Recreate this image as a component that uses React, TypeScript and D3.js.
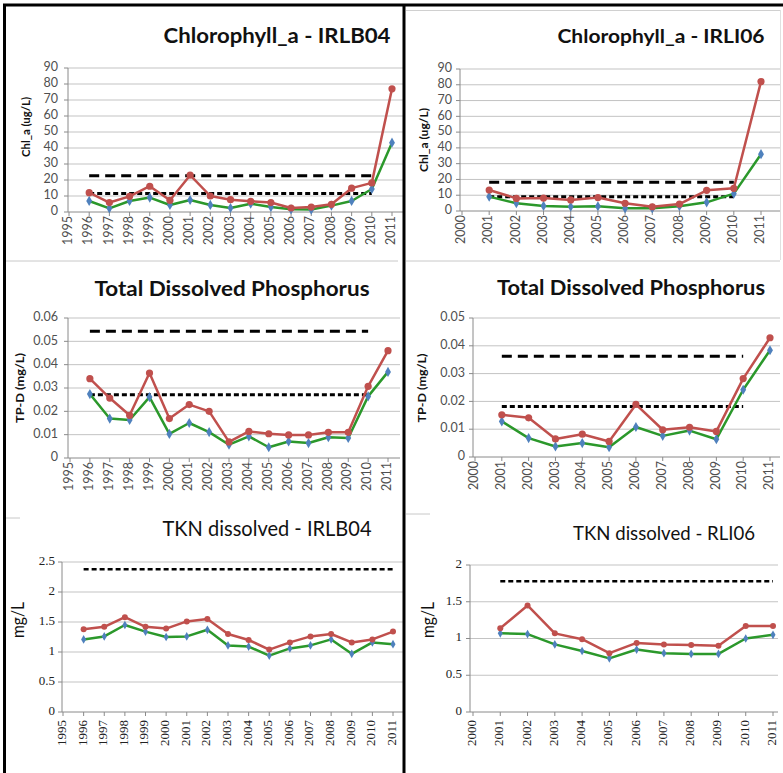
import React from 'react';
import * as d3 from 'd3';

// years
const yearsB04 = [1996, 1997, 1998, 1999, 2000, 2001, 2002, 2003, 2004, 2005, 2006, 2007, 2008, 2009, 2010, 2011];
const yearsI06 = [2001, 2002, 2003, 2004, 2005, 2006, 2007, 2008, 2009, 2010, 2011];

// Chlorophyll a (ug/L)
const chlB04High = [12.1, 5.9, 9.8, 16.1, 7.3, 23, 10, 7.7, 6.7, 5.9, 2.5, 3.1, 4.8, 14.9, 18.2, 77];
const chlB04Low = [6.9, 2.3, 6.9, 9, 4.4, 7.5, 4.4, 2.5, 5.2, 3.1, 1.7, 1.5, 4, 6.9, 14.4, 43.3];
const chlI06High = [13.3, 8, 8.2, 7, 8.5, 4.9, 2.7, 4.4, 13.1, 14.4, 82];
const chlI06Low = [9.1, 4.9, 3.2, 2.7, 3, 1.7, 1.7, 3, 5.5, 11, 36];

// Total dissolved phosphorus (mg/L)
const tpdB04High = [0.034, 0.0257, 0.0183, 0.0364, 0.0169, 0.0229, 0.02, 0.0069, 0.0114, 0.0104, 0.0099, 0.0099, 0.011, 0.011, 0.0307, 0.046];
const tpdB04Low = [0.0274, 0.0169, 0.0163, 0.0261, 0.0103, 0.015, 0.0111, 0.0057, 0.0093, 0.0046, 0.0071, 0.0064, 0.0089, 0.0086, 0.0264, 0.0369];
const tpdI06High = [0.0152, 0.0141, 0.0065, 0.0082, 0.0056, 0.0189, 0.0098, 0.0107, 0.0092, 0.0282, 0.0429];
const tpdI06Low = [0.0128, 0.0068, 0.0038, 0.005, 0.0035, 0.0108, 0.0076, 0.0095, 0.0064, 0.0242, 0.0384];

// TKN dissolved (mg/L)
const tknB04High = [1.38, 1.42, 1.58, 1.42, 1.39, 1.51, 1.55, 1.3, 1.2, 1.04, 1.16, 1.26, 1.3, 1.16, 1.21, 1.34];
const tknB04Low = [1.21, 1.26, 1.45, 1.34, 1.25, 1.26, 1.37, 1.11, 1.09, 0.94, 1.06, 1.11, 1.21, 0.97, 1.16, 1.13];
const tknI06High = [1.14, 1.45, 1.07, 0.99, 0.8, 0.94, 0.92, 0.91, 0.9, 1.17, 1.17];
const tknI06Low = [1.07, 1.06, 0.92, 0.83, 0.73, 0.85, 0.8, 0.79, 0.79, 1.0, 1.05];

// reference levels [long dash, short dash] and the years they span
const chlB04Refs = [22.6, 11.5];
const chlI06Refs = [18.2, 9.1];
const tpdB04Refs = [0.0543, 0.0271];
const tpdI06Refs = [0.0362, 0.0182];
const tknB04Refs = [2.38];
const tknI06Refs = [1.78];
const refSpanChlB04 = [1996, 2010];
const refSpanChlI06 = [2001, 2010];
const refSpanTknB04 = [1996, 2011];
const refSpanTknI06 = [2001, 2011];

// axes
const axisB04 = [1995, 2011];
const axisI06 = [2000, 2011];
const chlTicks = [0, 10, 20, 30, 40, 50, 60, 70, 80, 90];
const tpdB04Ticks = [0, 0.01, 0.02, 0.03, 0.04, 0.05, 0.06];
const tpdI06Ticks = [0, 0.01, 0.02, 0.03, 0.04, 0.05];
const tknB04Ticks = [0, 0.5, 1, 1.5, 2, 2.5];
const tknI06Ticks = [0, 0.5, 1, 1.5, 2];

const RED = '#c0504d';
const GREEN = '#2b982b';
const BLUE = '#4f81bd';
const SANS = 'Lato, "Open Sans", sans-serif';
const SERIF = '"Liberation Serif", "DejaVu Serif", serif';

type Cfg = {
  title: string; titleX: number; titleY: number; titleW: number; titleSize: number; titleWeight: string;
  yLabel: string; yLabelX: number; yLabelY: number; yLabelW: number; yLabelSize: number; yLabelWeight: string;
  years: number[]; high: number[]; low: number[];
  refs: number[]; refSpan: number[];
  xDomain: number[]; x0: number; x1: number; axisX: number; gridEnd: number;
  yTicks: number[]; yTop: number; yBottom: number; tickRight: number;
  tickFont: string; tickSize: number; xLabelGap: number; lineW: number; small: boolean;
};

const base = { titleWeight: 'bold', yLabelWeight: 'bold', yLabelSize: 11.5, tickFont: SANS, tickSize: 12.5, xLabelGap: 4, lineW: 2.5, small: false, titleSize: 21 };

const panels: Cfg[] = [
  { ...base, title: 'Chlorophyll_a - IRLB04', titleX: 277, titleY: 43, titleW: 227,
    yLabel: 'Chl_a (ug/L)', yLabelX: 27, yLabelY: 127, yLabelW: 60,
    years: yearsB04, high: chlB04High, low: chlB04Low, refs: chlB04Refs, refSpan: refSpanChlB04,
    xDomain: axisB04, x0: 69, x1: 392, axisX: 68, gridEnd: 403,
    yTicks: chlTicks, yTop: 68, yBottom: 212, tickRight: 58 },
  { ...base, title: 'Chlorophyll_a - IRLI06', titleX: 661, titleY: 43, titleW: 207, titleSize: 19.5,
    yLabel: 'Chl_a (ug/L)', yLabelX: 425, yLabelY: 140, yLabelW: 64,
    years: yearsI06, high: chlI06High, low: chlI06Low, refs: chlI06Refs, refSpan: refSpanChlI06,
    xDomain: axisI06, x0: 462, x1: 761, axisX: 460, gridEnd: 780,
    yTicks: chlTicks, yTop: 69, yBottom: 211, tickRight: 452 },
  { ...base, title: 'Total Dissolved Phosphorus', titleX: 232, titleY: 296, titleW: 275,
    yLabel: 'TP-D (mg/L)', yLabelX: 21, yLabelY: 388, yLabelW: 70,
    years: yearsB04, high: tpdB04High, low: tpdB04Low, refs: tpdB04Refs, refSpan: refSpanChlB04,
    xDomain: axisB04, x0: 70, x1: 388, axisX: 68, gridEnd: 400,
    yTicks: tpdB04Ticks, yTop: 318, yBottom: 458, tickRight: 58 },
  { ...base, title: 'Total Dissolved Phosphorus', titleX: 631, titleY: 295, titleW: 268,
    yLabel: 'TP-D (mg/L)', yLabelX: 423, yLabelY: 388, yLabelW: 69,
    years: yearsI06, high: tpdI06High, low: tpdI06Low, refs: tpdI06Refs, refSpan: refSpanChlI06,
    xDomain: axisI06, x0: 475, x1: 770, axisX: 473, gridEnd: 780,
    yTicks: tpdI06Ticks, yTop: 318, yBottom: 457, tickRight: 465 },
  { ...base, title: 'TKN dissolved - IRLB04', titleX: 267, titleY: 536, titleW: 209, titleWeight: 'normal', titleSize: 22,
    yLabel: 'mg/L', yLabelX: 19, yLabelY: 620, yLabelW: 36, yLabelSize: 18, yLabelWeight: 'normal',
    years: yearsB04, high: tknB04High, low: tknB04Low, refs: tknB04Refs, refSpan: refSpanTknB04,
    xDomain: axisB04, x0: 63, x1: 393, axisX: 62, gridEnd: 403,
    yTicks: tknB04Ticks, yTop: 562, yBottom: 712, tickRight: 55,
    tickFont: SERIF, tickSize: 13, xLabelGap: 8, small: true },
  { ...base, title: 'TKN dissolved - RLI06', titleX: 664, titleY: 540, titleW: 182, titleWeight: 'normal', titleSize: 20,
    yLabel: 'mg/L', yLabelX: 429, yLabelY: 620, yLabelW: 36, yLabelSize: 18, yLabelWeight: 'normal',
    years: yearsI06, high: tknI06High, low: tknI06Low, refs: tknI06Refs, refSpan: refSpanTknI06,
    xDomain: axisI06, x0: 473, x1: 773, axisX: 470, gridEnd: 778,
    yTicks: tknI06Ticks, yTop: 565, yBottom: 712, tickRight: 462,
    tickFont: SERIF, tickSize: 13, xLabelGap: 8, small: true },
];

const Panel = ({ p }: { p: Cfg }) => {
  const x = d3.scaleLinear().domain(p.xDomain).range([p.x0, p.x1]);
  const yMax = p.yTicks[p.yTicks.length - 1];
  const y = d3.scaleLinear().domain([0, yMax]).range([p.yBottom, p.yTop]);
  const xTicks = d3.range(p.xDomain[0], p.xDomain[1] + 1);
  const line = d3.line<number>().x((d, i) => x(p.years[i])).y((d) => y(d));
  const diamond = d3.symbol().type(d3.symbolDiamond).size(p.small ? 22 : 30)();
  const dashes = p.small ? ['5 3'] : ['10 6', '5 3'];
  const tickColor = p.small ? '#222' : '#505050';

  return (
    <g>
      <text x={p.titleX} y={p.titleY} textAnchor="middle" fontFamily={SANS} fontSize={p.titleSize}
        fontWeight={p.titleWeight} fill="#111" textLength={p.titleW} lengthAdjust="spacingAndGlyphs">
        {p.title}
      </text>
      <text transform={`translate(${p.yLabelX},${p.yLabelY}) rotate(-90)`} textAnchor="middle"
        dominantBaseline="middle" fontFamily={SANS} fontSize={p.yLabelSize} fontWeight={p.yLabelWeight}
        fill="#111" textLength={p.yLabelW} lengthAdjust="spacingAndGlyphs">
        {p.yLabel}
      </text>

      {p.yTicks.map((t) => (
        <g key={t}>
          {t > 0 && <line x1={p.axisX} x2={p.gridEnd} y1={y(t)} y2={y(t)} stroke="#c3c3c3" strokeWidth={1} />}
          <line x1={p.axisX - 4} x2={p.axisX} y1={y(t)} y2={y(t)} stroke="#8a8a8a" />
          <text x={p.tickRight} y={y(t)} textAnchor="end" dominantBaseline="middle"
            fontFamily={p.tickFont} fontSize={p.tickSize} fill={tickColor}>
            {String(t)}
          </text>
        </g>
      ))}
      <line x1={p.axisX} x2={p.axisX} y1={p.yTop} y2={p.yBottom} stroke="#8a8a8a" />
      <line x1={p.axisX} x2={p.gridEnd} y1={p.yBottom} y2={p.yBottom} stroke="#8a8a8a" />
      {xTicks.map((t) => (
        <g key={t}>
          <line x1={x(t)} x2={x(t)} y1={p.yBottom} y2={p.yBottom + 4} stroke="#8a8a8a" />
          <text transform={`translate(${x(t)},${p.yBottom + p.xLabelGap}) rotate(-90)`} textAnchor="end"
            dominantBaseline="middle" fontFamily={p.tickFont} fontSize={p.tickSize} fill={tickColor}>
            {t}
          </text>
        </g>
      ))}

      {p.refs.map((r, i) => (
        <line key={i} x1={x(p.refSpan[0])} x2={x(p.refSpan[1])} y1={y(r)} y2={y(r)}
          stroke="#000" strokeWidth={p.small ? 2.5 : 3} strokeDasharray={dashes[i]} />
      ))}

      <path d={line(p.low) || ''} fill="none" stroke={GREEN} strokeWidth={p.lineW} strokeLinejoin="round" />
      {p.low.map((v, i) => (
        <path key={i} d={diamond} transform={`translate(${x(p.years[i])},${y(v)})`} fill={BLUE} />
      ))}
      <path d={line(p.high) || ''} fill="none" stroke={RED} strokeWidth={p.lineW} strokeLinejoin="round" />
      {p.high.map((v, i) => (
        <circle key={i} cx={x(p.years[i])} cy={y(v)} r={p.small ? 3 : 3.6} fill={RED} />
      ))}
    </g>
  );
};

export default function App() {
  return (
    <svg width={783} height={773} style={{ position: 'absolute', left: 0, top: 0, background: '#fff' }}>
      <rect width={783} height={773} fill="#fff" />
      {/* panel separators */}
      <line x1={6} x2={398} y1={261} y2={261} stroke="#c8c8c8" />
      <line x1={406} x2={780} y1={261} y2={261} stroke="#c8c8c8" />
      <line x1={6} x2={20} y1={518} y2={518} stroke="#c8c8c8" />
      <line x1={406} x2={430} y1={514} y2={514} stroke="#c8c8c8" />
      <line x1={406} x2={780} y1={10.5} y2={10.5} stroke="#d0d0d0" />
      <line x1={780.5} x2={780.5} y1={10} y2={260} stroke="#e0e0e0" />
      {panels.map((p, i) => <Panel key={i} p={p} />)}
      {/* thick frame */}
      <line x1={3} x2={783} y1={5} y2={5} stroke="#000" strokeWidth={3} />
      <line x1={4.5} x2={4.5} y1={4} y2={773} stroke="#000" strokeWidth={3} />
      <line x1={404} x2={404} y1={4} y2={773} stroke="#000" strokeWidth={3} />
    </svg>
  );
}
